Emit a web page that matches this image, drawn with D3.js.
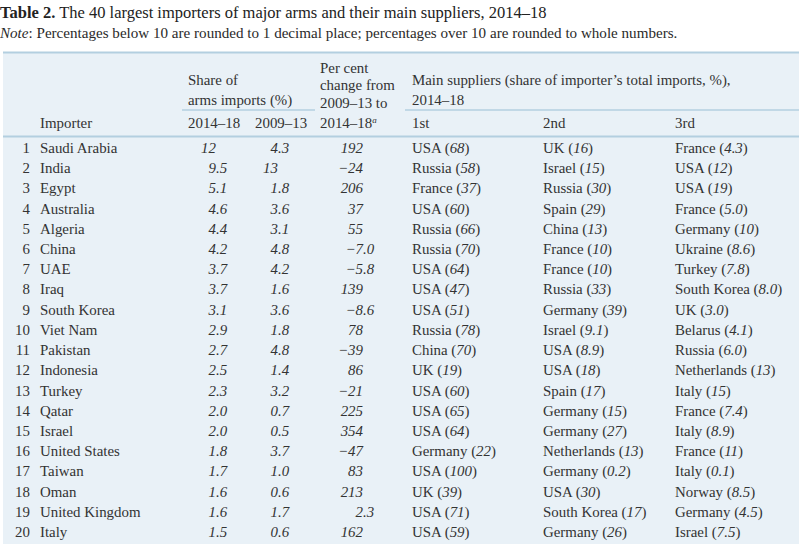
<!DOCTYPE html>
<html>
<head>
<meta charset="utf-8">
<script src="https://cdn.jsdelivr.net/npm/d3@7"></script>
<style>
  html, body { margin: 0; padding: 0; background: #ffffff; }
  svg { display: block; }
  text { font-family: "Liberation Serif", "DejaVu Serif", serif; fill: #333333; }
</style>
</head>
<body>
<svg id="chart" width="799" height="544"></svg>
<script>
// ---- Data ----
const ranks = [1,2,3,4,5,6,7,8,9,10,11,12,13,14,15,16,17,18,19,20];
const importers = ["Saudi Arabia","India","Egypt","Australia","Algeria","China","UAE","Iraq","South Korea","Viet Nam","Pakistan","Indonesia","Turkey","Qatar","Israel","United States","Taiwan","Oman","United Kingdom","Italy"];
const share1418 = ["12","9.5","5.1","4.6","4.4","4.2","3.7","3.7","3.1","2.9","2.7","2.5","2.3","2.0","2.0","1.8","1.7","1.6","1.6","1.5"];
const share0913 = ["4.3","13","1.8","3.6","3.1","4.8","4.2","1.6","3.6","1.8","4.8","1.4","3.2","0.7","0.5","3.7","1.0","0.6","1.7","0.6"];
const changePct = ["192","−24","206","37","55","−7.0","−5.8","139","−8.6","78","−39","86","−21","225","354","−47","83","213","2.3","162"];
const sup1Names = ["USA","Russia","France","USA","Russia","Russia","USA","USA","USA","Russia","China","UK","USA","USA","USA","Germany","USA","UK","USA","USA"];
const sup1Vals  = ["68","58","37","60","66","70","64","47","51","78","70","19","60","65","64","22","100","39","71","59"];
const sup2Names = ["UK","Israel","Russia","Spain","China","France","France","Russia","Germany","Israel","USA","USA","Spain","Germany","Germany","Netherlands","Germany","USA","South Korea","Germany"];
const sup2Vals  = ["16","15","30","29","13","10","10","33","39","9.1","8.9","18","17","15","27","13","0.2","30","17","26"];
const sup3Names = ["France","USA","USA","France","Germany","Ukraine","Turkey","South Korea","UK","Belarus","Russia","Netherlands","Italy","France","Italy","France","Italy","Norway","Germany","Israel"];
const sup3Vals  = ["4.3","12","19","5.0","10","8.6","7.8","8.0","3.0","4.1","6.0","13","15","7.4","8.9","11","0.1","8.5","4.5","7.5"];

const titleBold = "Table 2.";
const titleText = " The 40 largest importers of major arms and their main suppliers, 2014–18";
const noteLabel = "Note";
const noteText = ": Percentages below 10 are rounded to 1 decimal place; percentages over 10 are rounded to whole numbers.";

// ---- Layout ----
const W = 799, H = 544;
const svg = d3.select("#chart");
const fs = 14.9;
const lineColor = "#b3cfe0";

// background of table
svg.append("rect").attr("x", 3).attr("y", 52).attr("width", W - 3).attr("height", H - 52).attr("fill", "#e9f1f7");

// lines
const hline = (x1, x2, y, w) => svg.append("line").attr("x1", x1).attr("x2", x2).attr("y1", y).attr("y2", y)
  .attr("stroke", lineColor).attr("stroke-width", w || 1.5);
hline(3, W, 52.5, 2);
hline(182, 315, 110, 1.5);
hline(405, W, 110, 1.5);
hline(3, W, 136.5, 2);

// title
const t = svg.append("text").attr("x", 0).attr("y", 18).style("font-size", "16.5px").style("fill", "#222");
t.append("tspan").style("font-weight", "bold").text(titleBold);
t.append("tspan").text(titleText);

const n = svg.append("text").attr("x", 0).attr("y", 38).style("font-size", "15.1px").style("fill", "#2a2a2a");
n.append("tspan").style("font-style", "italic").text(noteLabel);
n.append("tspan").text(noteText);

// header
const hdr = (x, y, s) => svg.append("text").attr("x", x).attr("y", y).style("font-size", fs + "px").text(s);
hdr(40, 128, "Importer");
hdr(188, 85, "Share of");
hdr(188, 105, "arms imports (%)");
hdr(188, 128, "2014–18");
hdr(255, 128, "2009–13");
hdr(320, 73, "Per cent");
hdr(320, 90, "change from");
hdr(320, 108, "2009–13 to");
const sup = hdr(320, 128, "2014–18");
sup.append("tspan").attr("dy", -5).style("font-size", "9px").style("font-style", "italic").text("a");
hdr(412, 85, "Main suppliers (share of importer’s total imports, %),");
hdr(412, 105, "2014–18");
hdr(412, 128, "1st");
hdr(543, 128, "2nd");
hdr(675, 128, "3rd");

// rows
const y = d3.scalePoint().domain(d3.range(ranks.length)).range([153, 537]);

const rows = svg.append("g").selectAll("g").data(ranks).join("g")
  .attr("transform", (d, i) => `translate(0,${y(i)})`);

rows.append("text").attr("x", 30).attr("text-anchor", "end").style("font-size", fs + "px").text(d => d);
rows.append("text").attr("x", 40).style("font-size", fs + "px").text((d, i) => importers[i]);

function decimal(arr, xDec) {
  rows.append("text").attr("x", xDec).attr("text-anchor", "end").style("font-size", fs + "px").style("font-style", "italic")
    .text((d, i) => arr[i].split(".")[0]);
  rows.append("text").attr("x", xDec).style("font-size", fs + "px").style("font-style", "italic")
    .text((d, i) => arr[i].includes(".") ? "." + arr[i].split(".")[1] : "");
}
decimal(share1418, 216);
decimal(share0913, 278);
decimal(changePct, 363);

function supplier(names, vals, x) {
  const tx = rows.append("text").attr("x", x).style("font-size", fs + "px");
  tx.append("tspan").text((d, i) => names[i] + " (");
  tx.append("tspan").style("font-style", "italic").text((d, i) => vals[i]);
  tx.append("tspan").text(")");
}
supplier(sup1Names, sup1Vals, 412);
supplier(sup2Names, sup2Vals, 543);
supplier(sup3Names, sup3Vals, 675);
</script>
</body>
</html>
